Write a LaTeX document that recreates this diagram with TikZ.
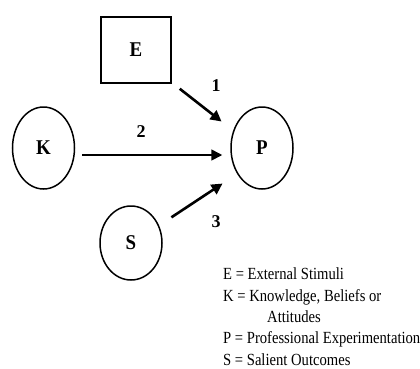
\documentclass[tikz,border=0pt]{standalone}
\usepackage{fontspec}
\setmainfont{Liberation Serif}
\newfontfamily\nodefont[FakeStretch=0.9]{Liberation Serif}
\newfontfamily\legfont[FakeStretch=0.86]{Liberation Serif}
\usetikzlibrary{shapes.geometric,arrows.meta}
\begin{document}
\begin{tikzpicture}[x=1pt,y=-1pt,
  circ/.style={draw,line width=1.5pt,ellipse,minimum width=62pt,minimum height=82pt,inner sep=0pt,
    font=\nodefont\bfseries\fontsize{21}{21}\selectfont},
  sbox/.style={draw,line width=1.5pt,rectangle,minimum width=70pt,minimum height=66pt,inner sep=0pt,
    font=\nodefont\bfseries\fontsize{21}{21}\selectfont},
  num/.style={inner sep=0pt,font=\bfseries\fontsize{18}{18}\selectfont},
  leg/.style={anchor=base west,inner sep=0pt,font=\legfont\fontsize{17}{17}\selectfont},
  arr/.style={-{Triangle[length=11pt,width=11pt]},line width=1.7pt},
  arrthick/.style={arr,line width=2.6pt}]
\useasboundingbox (0,0) rectangle (420,368);
\node[sbox] (E) at (136,50) {E};
\node[circ] (K) at (43.5,148) {K};
\node[circ] (P) at (262,148) {P};
\node[circ,minimum height=74pt] (S) at (131,243) {S};
\draw[arrthick] ([xshift=8pt,yshift=-5pt]E.south east) -- ([xshift=-18pt,yshift=-3pt]P.north west);
\draw[arr] ([xshift=7pt,yshift=-7pt]K.east) -- ([xshift=-8pt,yshift=-7pt]P.west);
\draw[arrthick] ([xshift=18pt,yshift=-1pt]S.north east) -- ([xshift=-17pt,yshift=-6pt]P.south west);
\node[num] (n1) at (216,86) {1};
\node[num] (n2) at (141,132) {2};
\node[num] (n3) at (216,222) {3};
\node[leg] (l1) at (223,279) {E = External Stimuli};
\node[leg] (l2) at (223,301) {K = Knowledge, Beliefs or};
\node[leg] (l3) at (267,322) {Attitudes};
\node[leg] (l4) at (223,343) {P = Professional Experimentation};
\node[leg] (l5) at (223,365) {S = Salient Outcomes};
\end{tikzpicture}
\end{document}
